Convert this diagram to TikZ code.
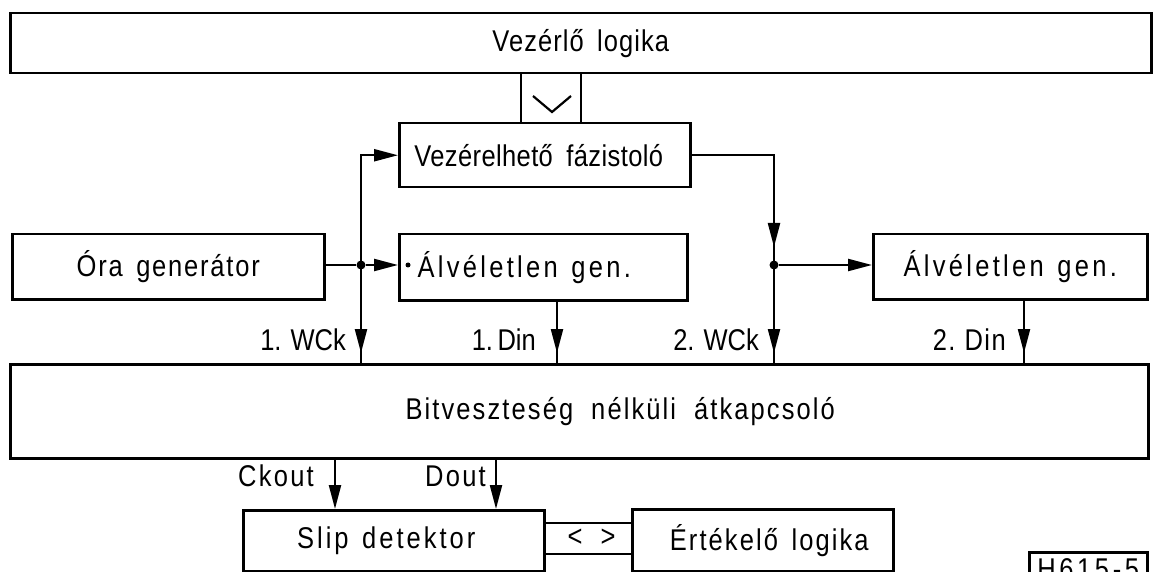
\documentclass[tikz,border=0pt]{standalone}
\usepackage{fontspec}
\setmainfont{Liberation Sans}[FakeStretch=0.85]
\usetikzlibrary{arrows.meta,decorations.markings}
\newcommand\wgap{\hspace{0.45em}}
\newcommand\ls[1]{\addfontfeatures{LetterSpace=#1}}
\begin{document}
\begin{tikzpicture}[x=1pt,y=-1pt,
  every node/.style={font=\fontsize{30}{34}\selectfont, inner sep=0pt},
  block/.style={draw, line width=2.5pt, rectangle, anchor=north west},
  wire/.style={line width=2.2pt},
  tip/.style={-{Triangle[length=24pt,width=12pt]}},
  midtip/.style={postaction={decorate}, decoration={markings,
      mark=at position #1 with {\arrow{Triangle[length=24pt,width=12pt]}}}},
  midtip/.default=-10pt,
  junction/.style={circle, fill, minimum size=9pt, inner sep=0pt},
  sig/.style={anchor=east}
]
\useasboundingbox (0,0) rectangle (1157,572);

% blocks
\node[block, minimum width=1141pt, minimum height=60pt] (ctrl) at (9,12)
  {\ls{3.5}Vezérlő\wgap logika};
\node[block, minimum width=291pt, minimum height=64pt] (phase) at (398,122)
  {\hspace*{-12pt}\ls{1.3}Vezérelhető\wgap fázistoló};
\node[block, minimum width=312pt, minimum height=65pt] (clk) at (11,233)
  {\ls{6}Óra\wgap generátor};
\node[block, minimum width=288pt, minimum height=66pt] (rnd1) at (398,233)
  {\hspace*{-38pt}\ls{11}Álvéletlen\wgap gen.};
\node[block, minimum width=274pt, minimum height=65pt] (rnd2) at (872,233)
  {\ls{11}Álvéletlen\wgap gen.};
\node[block, minimum width=1138pt, minimum height=94pt] (sw) at (9,363)
  {\hspace*{82pt}\ls{7}Bitveszteség\hspace{0.6em}nélküli\hspace{0.6em}átkapcsoló};
\node[block, minimum width=301pt, minimum height=61pt] (slip) at (242,509)
  {\hspace*{-15pt}\ls{10}Slip\wgap detektor};
\node[block, minimum width=261pt, minimum height=62pt] (eval) at (631,508)
  {\hspace*{13pt}\ls{7}Értékelő\wgap logika};
\node[block, minimum width=118pt, minimum height=34pt] (tag) at (1028,551)
  {\ls{12}H615-5};

% control bus between the logic and the phase shifter
\coordinate (busL) at (521,100);
\coordinate (busR) at (581,100);
\draw[wire] (busL |- ctrl.south) -- (busL |- phase.north);
\draw[wire] (busR |- ctrl.south) -- (busR |- phase.north);
\draw[wire] (533,96) -- (552,112) -- (571,96);

% bus between slip detector and evaluation logic
\coordinate (bt) at (600,523);
\coordinate (bb) at (600,554);
\draw[wire] (slip.east |- bt) -- (eval.west |- bt);
\draw[wire] (slip.east |- bb) -- (eval.west |- bb);
\node (lt) at (575,538) {<};
\node (gt) at (608,538) {>};

% clock distribution
\node[junction] (j1) at (361,265) {};
\node[junction] (j2) at (774,265) {};
\draw[wire] (clk.east |- j1) -- (j1);
\draw[wire,tip] (j1) -- (rnd1.west |- j1);
\fill ([xshift=10pt]rnd1.west |- j1) circle (2.5pt);
\draw[wire,tip] (j1.center) |- (phase.west);
\draw[wire,midtip] (j1.center) -- (j1 |- sw.north);
\draw[wire,midtip=-18pt] (phase.east) -| (j2.center);
\draw[wire,tip] (j2) -- (rnd2.west |- j2);
\draw[wire,midtip] (j2.center) -- (j2 |- sw.north);

% data inputs of the switch
\coordinate (d1) at (557,300);
\coordinate (d2) at (1024,300);
\draw[wire,midtip] (rnd1.south -| d1) -- (sw.north -| d1);
\draw[wire,midtip] (rnd2.south -| d2) -- (sw.north -| d2);

% outputs of the switch
\coordinate (co) at (335,480);
\coordinate (dn) at (496,480);
\draw[wire,tip] (sw.south -| co) -- (slip.north -| co);
\draw[wire,tip] (sw.south -| dn) -- (slip.north -| dn);

% signal names
\node[sig] (lw1) at (346,340) {1.\hspace{0.3em}WCk};
\node[sig] (ld1) at (536,340) {1.\hspace{0.15em}Din};
\node[sig] (lw2) at (759,340) {2.\hspace{0.3em}WCk};
\node[sig] (ld2) at (1006,340) {\ls{5}2.\hspace{0.3em}Din};
\node[sig] (lco) at (314,476) {\ls{7.5}Ckout};
\node[sig] (ldo) at (486,476) {\ls{7.5}Dout};
\end{tikzpicture}
\end{document}
